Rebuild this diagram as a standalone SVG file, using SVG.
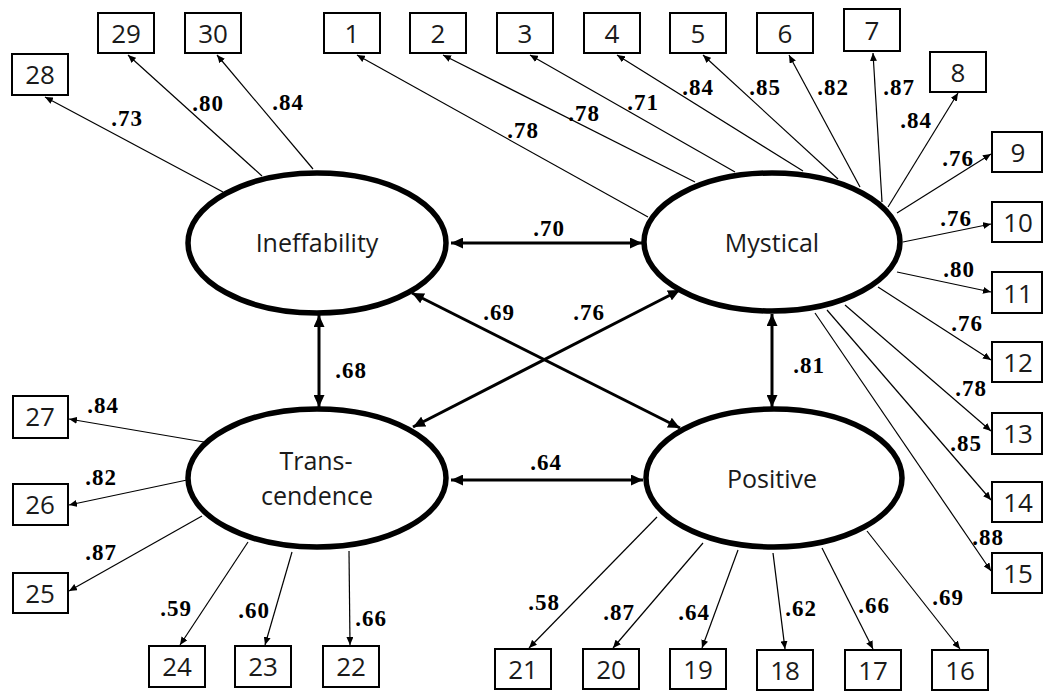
<svg xmlns="http://www.w3.org/2000/svg" width="1044" height="691" viewBox="0 0 1044 691">
<defs>
<marker id="ah" markerUnits="userSpaceOnUse" markerWidth="9" markerHeight="7" refX="8" refY="3.5" orient="auto"><path d="M0,0 L8,3.5 L0,7 z" fill="#000"/></marker>
<marker id="bh" markerUnits="userSpaceOnUse" markerWidth="13" markerHeight="11" refX="12" refY="5.5" orient="auto-start-reverse"><path d="M0,0 L12,5.5 L0,11 z" fill="#000"/></marker>
</defs>
<style>
.box{fill:#fff;stroke:#000;stroke-width:2}
.bt{font-family:"Open Sans","Noto Sans",sans-serif;font-size:26px;fill:#1a1a1a;text-anchor:middle}
.lat{fill:#fff;stroke:#000;stroke-width:5.5}
.lt{font-family:"Open Sans","Noto Sans",sans-serif;font-size:25px;fill:#1a1a1a;text-anchor:middle}
.ind{stroke:#000;stroke-width:1.2;fill:none;marker-end:url(#ah)}
.cor{stroke:#000;stroke-width:3;fill:none;marker-start:url(#bh);marker-end:url(#bh)}
.c{font-family:"Liberation Serif",serif;font-weight:bold;font-size:23px;fill:#000;text-anchor:middle;letter-spacing:1px}
</style>
<rect width="1044" height="691" fill="#fff"/>
<g id="connectors">
<line class="ind" x1="223" y1="192" x2="45" y2="97"/>
<line class="ind" x1="262" y1="176" x2="128" y2="55"/>
<line class="ind" x1="313" y1="169" x2="217" y2="55"/>
<line class="ind" x1="648" y1="217" x2="357" y2="55"/>
<line class="ind" x1="695" y1="182" x2="443" y2="55"/>
<line class="ind" x1="735" y1="172" x2="530" y2="55"/>
<line class="ind" x1="803" y1="171" x2="617" y2="55"/>
<line class="ind" x1="838" y1="179" x2="703" y2="55"/>
<line class="ind" x1="860" y1="187" x2="789" y2="55"/>
<line class="ind" x1="882" y1="202" x2="873" y2="53"/>
<line class="ind" x1="888" y1="207" x2="958" y2="93"/>
<line class="ind" x1="897" y1="213" x2="991" y2="154"/>
<line class="ind" x1="903" y1="242" x2="991" y2="224"/>
<line class="ind" x1="897" y1="272" x2="991" y2="292"/>
<line class="ind" x1="878" y1="287" x2="991" y2="360"/>
<line class="ind" x1="845" y1="305" x2="991" y2="431"/>
<line class="ind" x1="827" y1="310" x2="991" y2="500"/>
<line class="ind" x1="815" y1="313" x2="991" y2="571"/>
<line class="ind" x1="867" y1="531" x2="960" y2="649"/>
<line class="ind" x1="822" y1="548" x2="873" y2="649"/>
<line class="ind" x1="773" y1="553" x2="785" y2="649"/>
<line class="ind" x1="738" y1="550" x2="702" y2="648"/>
<line class="ind" x1="703" y1="543" x2="613" y2="648"/>
<line class="ind" x1="657" y1="517" x2="529" y2="648"/>
<line class="ind" x1="349" y1="551" x2="350" y2="645"/>
<line class="ind" x1="292" y1="552" x2="265" y2="645"/>
<line class="ind" x1="248" y1="542" x2="180" y2="645"/>
<line class="ind" x1="202" y1="516" x2="69" y2="591"/>
<line class="ind" x1="187" y1="480" x2="69" y2="505"/>
<line class="ind" x1="204" y1="442" x2="69" y2="419"/>
<line class="cor" x1="451" y1="243" x2="642" y2="243"/>
<line class="cor" x1="451" y1="480" x2="643" y2="480"/>
<line class="cor" x1="319" y1="315" x2="319" y2="407"/>
<line class="cor" x1="772" y1="314" x2="772" y2="407"/>
<line class="cor" x1="412" y1="293" x2="680" y2="428"/>
<line class="cor" x1="413" y1="427" x2="680" y2="290"/>
<g id="coefs">
<text class="c" x="127" y="126">.73</text>
<text class="c" x="208" y="111">.80</text>
<text class="c" x="288" y="110">.84</text>
<text class="c" x="523" y="138">.78</text>
<text class="c" x="584" y="121">.78</text>
<text class="c" x="643" y="110">.71</text>
<text class="c" x="698" y="95">.84</text>
<text class="c" x="765" y="95">.85</text>
<text class="c" x="833" y="95">.82</text>
<text class="c" x="899" y="95">.87</text>
<text class="c" x="916" y="128">.84</text>
<text class="c" x="958" y="166">.76</text>
<text class="c" x="956" y="226">.76</text>
<text class="c" x="959" y="277">.80</text>
<text class="c" x="967" y="331">.76</text>
<text class="c" x="971" y="396">.78</text>
<text class="c" x="966" y="451">.85</text>
<text class="c" x="988" y="545">.88</text>
<text class="c" x="948" y="605">.69</text>
<text class="c" x="874" y="613">.66</text>
<text class="c" x="801" y="616">.62</text>
<text class="c" x="694" y="620">.64</text>
<text class="c" x="619" y="620">.87</text>
<text class="c" x="544" y="610">.58</text>
<text class="c" x="103" y="413">.84</text>
<text class="c" x="101" y="485">.82</text>
<text class="c" x="101" y="560">.87</text>
<text class="c" x="176" y="616">.59</text>
<text class="c" x="254" y="618">.60</text>
<text class="c" x="371" y="626">.66</text>
<text class="c" x="549" y="236">.70</text>
<text class="c" x="546" y="470">.64</text>
<text class="c" x="351" y="378">.68</text>
<text class="c" x="499" y="320">.69</text>
<text class="c" x="589" y="320">.76</text>
<text class="c" x="809" y="373">.81</text>
</g>
</g>
<g id="ineffability"><ellipse class="lat" cx="317" cy="243" rx="129" ry="70"/><text class="lt" x="317" y="252">Ineffability</text></g>
<g id="mystical"><ellipse class="lat" cx="772" cy="242" rx="128" ry="69"/><text class="lt" x="772" y="252">Mystical</text></g>
<g id="transcendence"><ellipse class="lat" cx="317" cy="478" rx="129" ry="69"/><text class="lt" x="316" y="470">Trans-</text><text class="lt" x="317" y="505">cendence</text></g>
<g id="positive"><ellipse class="lat" cx="774" cy="478" rx="128" ry="69"/><text class="lt" x="772" y="488">Positive</text></g>
<g id="n28"><rect class="box" x="12" y="54" width="56" height="41"/><text class="bt" x="40" y="84">28</text></g>
<g id="n29"><rect class="box" x="98" y="13" width="56" height="40"/><text class="bt" x="126" y="43">29</text></g>
<g id="n30"><rect class="box" x="185" y="13" width="56" height="40"/><text class="bt" x="213" y="43">30</text></g>
<g id="n1"><rect class="box" x="324" y="13" width="56" height="40"/><text class="bt" x="352" y="43">1</text></g>
<g id="n2"><rect class="box" x="410" y="13" width="56" height="40"/><text class="bt" x="438" y="43">2</text></g>
<g id="n3"><rect class="box" x="497" y="13" width="56" height="40"/><text class="bt" x="525" y="43">3</text></g>
<g id="n4"><rect class="box" x="584" y="13" width="56" height="40"/><text class="bt" x="612" y="43">4</text></g>
<g id="n5"><rect class="box" x="670" y="13" width="56" height="40"/><text class="bt" x="698" y="43">5</text></g>
<g id="n6"><rect class="box" x="757" y="13" width="56" height="40"/><text class="bt" x="785" y="43">6</text></g>
<g id="n7"><rect class="box" x="844" y="9" width="56" height="42"/><text class="bt" x="872" y="40">7</text></g>
<g id="n8"><rect class="box" x="930" y="52" width="56" height="40"/><text class="bt" x="958" y="82">8</text></g>
<g id="n9"><rect class="box" x="992" y="132" width="50" height="40"/><text class="bt" x="1018" y="162">9</text></g>
<g id="n10"><rect class="box" x="992" y="202" width="50" height="40"/><text class="bt" x="1018" y="232">10</text></g>
<g id="n11"><rect class="box" x="992" y="272" width="50" height="41"/><text class="bt" x="1018" y="303">11</text></g>
<g id="n12"><rect class="box" x="992" y="342" width="50" height="40"/><text class="bt" x="1018" y="372">12</text></g>
<g id="n13"><rect class="box" x="992" y="413" width="50" height="41"/><text class="bt" x="1018" y="443">13</text></g>
<g id="n14"><rect class="box" x="992" y="482" width="50" height="40"/><text class="bt" x="1018" y="512">14</text></g>
<g id="n15"><rect class="box" x="992" y="553" width="50" height="40"/><text class="bt" x="1018" y="583">15</text></g>
<g id="n16"><rect class="box" x="932" y="650" width="56" height="40"/><text class="bt" x="960" y="680">16</text></g>
<g id="n17"><rect class="box" x="845" y="650" width="56" height="40"/><text class="bt" x="873" y="680">17</text></g>
<g id="n18"><rect class="box" x="757" y="650" width="56" height="40"/><text class="bt" x="785" y="680">18</text></g>
<g id="n19"><rect class="box" x="670" y="649" width="56" height="40"/><text class="bt" x="698" y="679">19</text></g>
<g id="n20"><rect class="box" x="583" y="649" width="56" height="40"/><text class="bt" x="611" y="679">20</text></g>
<g id="n21"><rect class="box" x="495" y="649" width="56" height="40"/><text class="bt" x="523" y="679">21</text></g>
<g id="n22"><rect class="box" x="323" y="646" width="56" height="41"/><text class="bt" x="351" y="676">22</text></g>
<g id="n23"><rect class="box" x="235" y="646" width="56" height="41"/><text class="bt" x="263" y="676">23</text></g>
<g id="n24"><rect class="box" x="149" y="646" width="56" height="41"/><text class="bt" x="177" y="676">24</text></g>
<g id="n27"><rect class="box" x="13" y="396" width="55" height="42"/><text class="bt" x="40" y="426">27</text></g>
<g id="n26"><rect class="box" x="13" y="484" width="55" height="41"/><text class="bt" x="40" y="514">26</text></g>
<g id="n25"><rect class="box" x="13" y="573" width="55" height="40"/><text class="bt" x="40" y="603">25</text></g>
</svg>
